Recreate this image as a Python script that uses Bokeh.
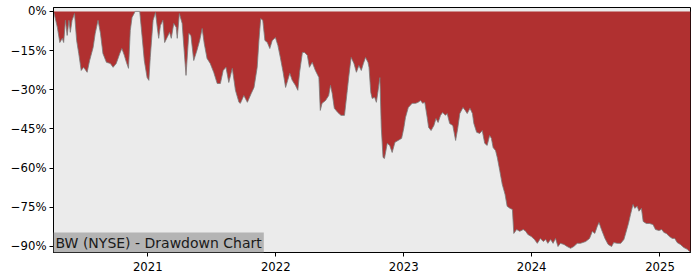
import pandas as pd
from bokeh.plotting import figure
from bokeh.models import Range1d, FixedTicker, CustomJSTickFormatter, Label, ColumnDataSource
from bokeh.embed import file_html
from bokeh.resources import INLINE

title_text = "BW (NYSE) - Drawdown Chart"
start_date = "2020-04-07"
days_since_start = [
    0, 3, 11, 18, 25, 29, 34, 39, 44, 48, 53, 60, 66, 72, 79, 86, 96, 103, 113, 119,
    127, 134, 141, 151, 162, 170, 179, 189, 195, 202, 208, 214, 219, 224, 233, 246, 253, 259, 267, 272,
    276, 284, 291, 296, 300, 305, 312, 317, 324, 331, 336, 343, 350, 353, 359, 367, 372, 378, 386, 392,
    400, 409, 417, 424, 430, 438, 447, 457, 467, 476, 484, 492, 500, 510, 519, 529, 533, 543, 553, 564,
    572, 581, 586, 591, 597, 603, 610, 617, 624, 633, 640, 647, 655, 662, 668, 674, 681, 690, 697, 702,
    710, 716, 724, 730, 738, 747, 757, 761, 766, 776, 785, 790, 795, 801, 811, 820, 830, 838, 842, 849,
    857, 864, 871, 878, 884, 890, 897, 900, 905, 909, 916, 921, 926, 931, 935, 940, 944, 952, 959, 966,
    974, 983, 993, 999, 1004, 1012, 1023, 1033, 1040, 1047, 1053, 1059, 1066, 1070, 1077, 1085, 1091, 1097, 1104, 1110,
    1118, 1123, 1130, 1139, 1147, 1153, 1159, 1168, 1175, 1180, 1188, 1195, 1199, 1207, 1216, 1223, 1230, 1237, 1244, 1249,
    1254, 1261, 1266, 1273, 1280, 1288, 1294, 1302, 1309, 1313, 1321, 1330, 1340, 1347, 1353, 1363, 1372, 1380, 1389, 1397,
    1404, 1410, 1418, 1425, 1432, 1439, 1446, 1456, 1465, 1475, 1484, 1494, 1503, 1518, 1529, 1537, 1544, 1551, 1556, 1563,
    1573, 1582, 1592, 1598, 1608, 1618, 1627, 1632, 1640, 1646, 1653, 1658, 1665, 1670, 1677, 1682, 1691, 1700, 1710, 1717,
    1727, 1735, 1741, 1748, 1757, 1765, 1772, 1779, 1788, 1798, 1808, 1814, 1817,
]
drawdown_pct = [
    0.0, -1.5, -6.1, -11.9, -10.3, -11.9, -3.4, -9.2, -3.4, -8.0, -3.4, -0.8, -11.1, -16.1, -22.6, -21.4, -23.3, -18.8, -13.8, -8.4,
    -3.4, -8.4, -16.1, -19.5, -19.9, -21.4, -19.9, -16.1, -14.2, -16.8, -19.5, -21.8, -7.3, -2.3, 0.0, 0.0, -10.0, -18.8, -25.3, -26.4,
    -17.6, -3.4, -0.4, -6.1, -10.3, -5.4, -3.4, -11.9, -10.0, -8.0, -10.3, -4.6, -6.1, -10.3, -0.8, -4.6, -13.8, -24.5, -8.4, -9.2,
    -18.8, -15.0, -11.1, -6.5, -12.3, -18.0, -19.9, -23.3, -27.6, -27.6, -22.6, -21.4, -27.2, -21.8, -30.2, -34.8, -35.2, -32.2, -34.8, -31.4,
    -29.1, -21.4, -11.1, -2.7, -3.4, -11.1, -11.9, -14.2, -11.1, -10.0, -13.0, -17.6, -23.3, -29.1, -26.4, -23.7, -26.4, -28.3, -30.2, -23.3,
    -15.7, -15.7, -16.8, -21.4, -19.5, -22.6, -25.3, -37.9, -35.2, -34.1, -32.2, -28.3, -31.4, -37.1, -38.7, -39.8, -39.8, -30.2, -25.3, -17.6,
    -19.9, -23.3, -20.7, -22.6, -19.9, -17.6, -19.5, -21.4, -31.0, -33.3, -32.9, -34.8, -30.2, -25.3, -44.4, -55.9, -56.3, -50.5, -51.3, -54.0,
    -50.1, -49.4, -48.6, -44.8, -40.6, -36.8, -35.2, -35.2, -34.8, -34.1, -35.2, -34.8, -40.6, -44.4, -45.6, -43.7, -41.0, -42.5, -39.8, -38.7,
    -39.8, -39.1, -42.9, -43.7, -49.4, -44.8, -39.1, -36.8, -38.0, -39.1, -37.1, -39.1, -42.9, -46.3, -46.7, -45.6, -50.5, -51.3, -47.5, -48.6,
    -52.1, -53.3, -56.0, -61.0, -66.2, -70.0, -74.6, -75.4, -75.8, -85.0, -83.5, -84.2, -83.5, -84.2, -85.4, -86.2, -87.3, -88.8, -86.9, -88.1,
    -87.3, -88.8, -87.3, -88.8, -86.9, -90.0, -88.8, -89.2, -90.0, -90.7, -90.0, -88.8, -88.8, -88.1, -86.9, -84.2, -85.0, -82.3, -80.8, -83.5,
    -86.9, -89.2, -90.0, -88.5, -88.8, -88.8, -87.3, -85.0, -81.2, -77.7, -73.9, -75.4, -74.6, -76.5, -75.4, -80.4, -81.2, -81.2, -81.6, -83.5,
    -83.9, -83.5, -84.6, -85.0, -86.2, -86.9, -86.9, -88.5, -89.2, -90.4, -91.1, -91.9, -91.9,
]
year_tick_labels = ["2021", "2022", "2023", "2024", "2025"]
pct_ticks = [-90, -75, -60, -45, -30, -15, 0]

dates = pd.Timestamp(start_date) + pd.to_timedelta(days_since_start, unit="D")
src = ColumnDataSource(dict(date=dates, dd=drawdown_pct))

p = figure(width=700, height=280, output_backend="svg", toolbar_location=None,
           x_axis_type="datetime",
           x_range=Range1d(dates[0], dates[-1]), y_range=Range1d(-92.3, 1.5),
           min_border_left=53, min_border_right=10, min_border_top=7, min_border_bottom=28)

p.background_fill_color = "#ebebeb"
p.border_fill_color = "white"
p.outline_line_color = "black"
p.outline_line_width = 1
p.grid.visible = False

p.varea(x="date", y1=0, y2="dd", source=src, fill_color="#b03030")
p.line(x="date", y="dd", source=src, line_color="#7a7a7a", line_width=1, line_alpha=0.8)

year_ms = [pd.Timestamp(y + "-01-01").value / 1e6 for y in year_tick_labels]
p.xaxis.ticker = FixedTicker(ticks=year_ms)
p.xaxis.formatter = CustomJSTickFormatter(code="return String(new Date(tick).getUTCFullYear());")
p.yaxis.ticker = FixedTicker(ticks=pct_ticks)
p.yaxis.formatter = CustomJSTickFormatter(code="return (tick < 0 ? '\u2212' : '') + Math.abs(tick) + '%';")

for ax in (p.xaxis[0], p.yaxis[0]):
    ax.axis_line_color = "black"
    ax.major_tick_line_color = "black"
    ax.major_tick_out = 4
    ax.major_tick_in = 0
    ax.minor_tick_line_color = None
    ax.major_label_text_font = "DejaVu Sans"
    ax.major_label_text_font_size = "11.7px"
    ax.major_label_text_color = "black"
    ax.major_label_standoff = 3
p.xaxis[0].major_label_standoff = 5

lab = Label(x=dates[0], y=-92.3, text=title_text, text_font="DejaVu Sans", text_font_size="14px",
            text_color="#1a1a1a", text_baseline="bottom", text_align="left",
            background_fill_color="#b4b4b4", padding=2)
p.add_layout(lab)

open("out.html", "w").write(file_html(p, INLINE))
